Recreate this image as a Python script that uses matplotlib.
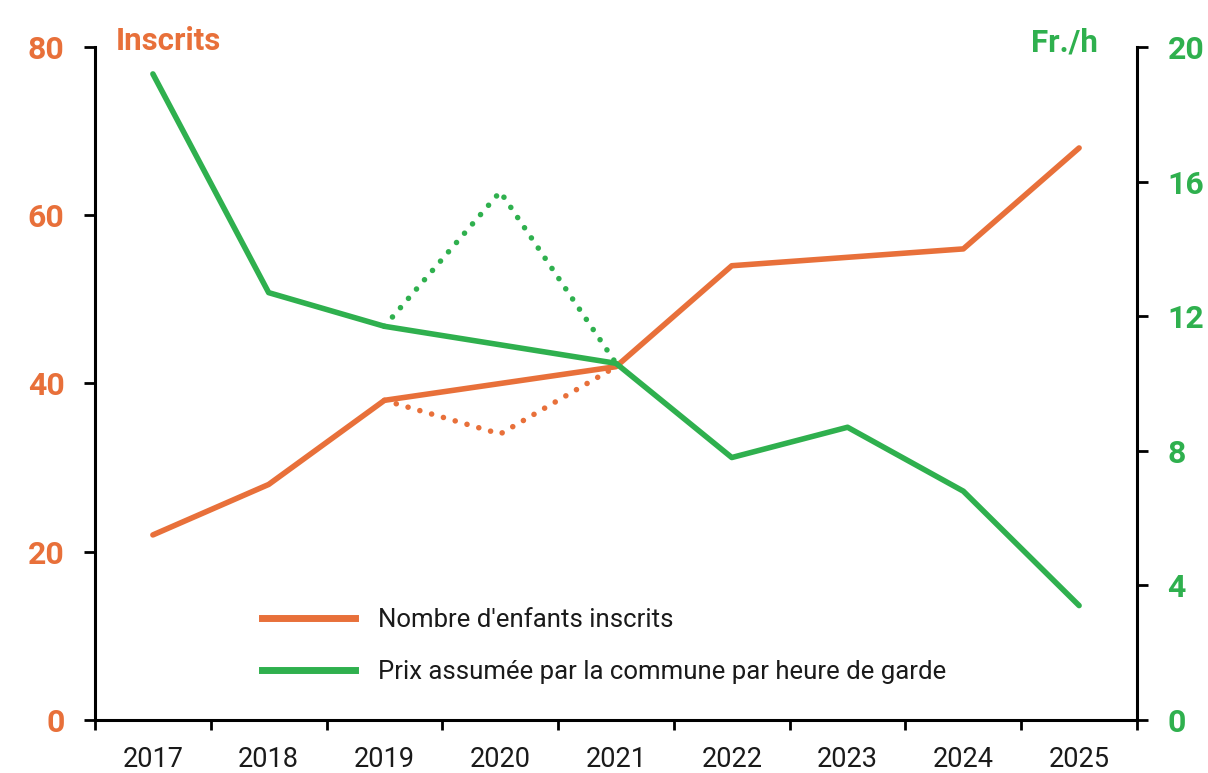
import matplotlib
matplotlib.use("Agg")
import matplotlib.pyplot as plt
from matplotlib.lines import Line2D

years = ["2017", "2018", "2019", "2020", "2021", "2022", "2023", "2024", "2025"]
inscrits = [22, 28, 38, 34, 42, 54, 55, 56, 68]
prix = [19.2, 12.7, 11.7, 15.7, 10.6, 7.8, 8.7, 6.8, 3.4]
gap_year = "2020"  # shown dotted, skipped by the solid line
left_ticks = [0, 20, 40, 60, 80]
right_ticks = [0, 4, 8, 12, 16, 20]
label_inscrits = "Nombre d'enfants inscrits"
label_prix = "Prix assumée par la commune par heure de garde"

ORANGE = "#E8703A"
GREEN = "#2FB04E"

plt.rcParams["font.family"] = ["Roboto", "DejaVu Sans"]

fig = plt.figure(figsize=(12.08, 7.73), dpi=100)
W, H = 1208, 773
ax = fig.add_axes([95 / W, 1 - 720 / H, (1137 - 95) / W, (720 - 47) / H])
ax2 = ax.twinx()

x = list(range(len(years)))
gi = years.index(gap_year)
xs = [i for i in x if i != gi]

lw = 4.0
dot = (0, (0.01, 2.2))
ax.plot(xs, [inscrits[i] for i in xs], color=ORANGE, lw=lw,
        solid_joinstyle="round", solid_capstyle="round", zorder=3)
ax.plot(x[gi - 1:gi + 2], inscrits[gi - 1:gi + 2], color=ORANGE, lw=lw,
        linestyle=dot, dash_capstyle="round", zorder=2)

ax2.plot(xs, [prix[i] for i in xs], color=GREEN, lw=lw,
         solid_joinstyle="round", solid_capstyle="round", zorder=3)
ax2.plot(x[gi - 1:gi + 2], prix[gi - 1:gi + 2], color=GREEN, lw=lw,
         linestyle=dot, dash_capstyle="round", zorder=2)

ax.set_xlim(-0.5, len(years) - 0.5)
ax.set_ylim(0, 80)
ax2.set_ylim(0, 20)

# x axis: tick marks between categories, labels at centres
ax.set_xticks([i - 0.5 for i in range(len(years) + 1)])
ax.set_xticklabels([])
ax.set_xticks(x, minor=True)
ax.set_xticklabels(years, minor=True, fontsize=19.5, color="#1a1a1a")
ax.tick_params(axis="x", which="major", length=7, width=2, direction="out", color="black")
ax.tick_params(axis="x", which="minor", length=0, pad=19)

ax.set_yticks(left_ticks)
ax.set_yticklabels([str(t) for t in left_ticks], fontsize=23, fontweight="bold", color=ORANGE)
ax.tick_params(axis="y", length=8, width=2, direction="out", color="black", pad=14)

ax2.set_yticks(right_ticks)
ax2.set_yticklabels([str(t) for t in right_ticks], fontsize=23, fontweight="bold", color=GREEN)
ax2.tick_params(axis="y", length=8, width=2, direction="out", color="black", pad=14)

for a in (ax, ax2):
    a.spines["top"].set_visible(False)
    for s in ("left", "right", "bottom"):
        a.spines[s].set_linewidth(2.2)
        a.spines[s].set_color("black")
ax.spines["right"].set_visible(False)
ax2.spines["left"].set_visible(False)
ax2.spines["bottom"].set_visible(False)

fig.text(116 / W, 1 - 50 / H, "Inscrits", fontsize=22.5, fontweight="bold",
         color=ORANGE, ha="left", va="baseline")
fig.text(1098 / W, 1 - 52 / H, "Fr./h", fontsize=22.5, fontweight="bold",
         color=GREEN, ha="right", va="baseline")

handles = [Line2D([0], [0], color=ORANGE, lw=5),
           Line2D([0], [0], color=GREEN, lw=5)]
leg = ax.legend(handles, [label_inscrits, label_prix], loc="upper left",
                bbox_to_anchor=(262 / W, 1 - 608 / H), bbox_transform=fig.transFigure,
                frameon=False, fontsize=18.5, handlelength=3.6, handletextpad=0.9,
                labelspacing=1.1, borderpad=0, borderaxespad=0)
for t in leg.get_texts():
    t.set_color("#1a1a1a")

fig.savefig("out.png", dpi=100)
